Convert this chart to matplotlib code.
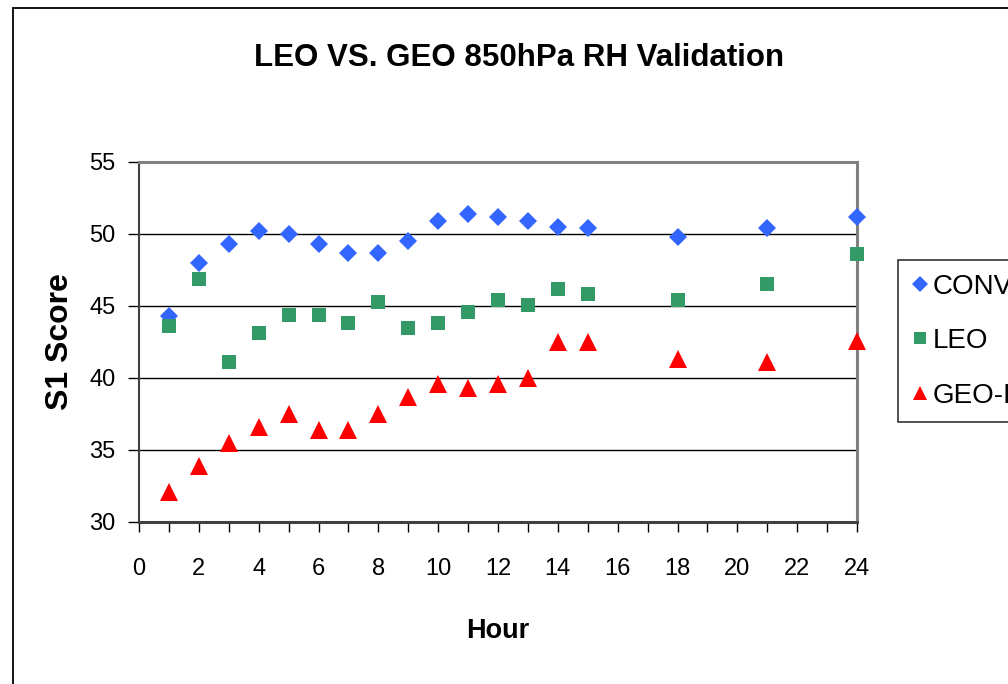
import matplotlib
matplotlib.use("Agg")
import matplotlib.pyplot as plt
from matplotlib.patches import Rectangle
from matplotlib.ticker import MultipleLocator

plt.rcParams['font.family'] = ['Liberation Sans', 'DejaVu Sans']

# S1 score by forecast hour
hours = [1, 2, 3, 4, 5, 6, 7, 8, 9, 10, 11, 12, 13, 14, 15, 18, 21, 24]
conv = [44.3, 48.0, 49.3, 50.2, 50.0, 49.3, 48.7, 48.7, 49.5, 50.9, 51.4, 51.2,
        50.9, 50.5, 50.4, 49.8, 50.4, 51.2]
leo = [43.6, 46.9, 41.1, 43.1, 44.4, 44.4, 43.8, 45.3, 43.5, 43.8, 44.6, 45.4,
       45.1, 46.2, 45.8, 45.4, 46.5, 48.6]
geo = [32.1, 33.9, 35.5, 36.6, 37.5, 36.4, 36.4, 37.5, 38.7, 39.6, 39.3, 39.6,
       40.0, 42.5, 42.5, 41.3, 41.1, 42.6]
series_names = ['CONV', 'LEO', 'GEO-IR']

fig = plt.figure(figsize=(10.08, 6.84), dpi=100)

# outer chart border (runs off the right and bottom edges)
fig.patches.append(Rectangle((13 / 1008, -0.05), 1.2, 1 - 8 / 684 + 0.05,
                             transform=fig.transFigure, fill=False,
                             edgecolor='black', linewidth=1.3, zorder=0))

ax = fig.add_axes([139 / 1008, 1 - 522 / 684, 718 / 1008, 360 / 684])

ax.plot(hours, conv, linestyle='none', marker='D', markersize=9.0,
        color='#3366ff', markeredgewidth=0, label=series_names[0], clip_on=False, zorder=3)
ax.plot(hours, leo, linestyle='none', marker='s', markersize=9.8,
        color='#339966', markeredgewidth=0, label=series_names[1], clip_on=False, zorder=3)
ax.plot(hours, geo, linestyle='none', marker='^', markersize=12.5,
        color='#ff0000', markeredgewidth=0, label=series_names[2], clip_on=False, zorder=3)

ax.set_xlim(0, 24)
ax.set_ylim(30, 55)
ax.xaxis.set_major_locator(MultipleLocator(2))
ax.xaxis.set_minor_locator(MultipleLocator(1))
ax.yaxis.set_major_locator(MultipleLocator(5))

ax.yaxis.grid(True, color='black', linewidth=1.0)
ax.set_axisbelow(True)

ax.tick_params(axis='x', which='both', direction='out', length=7, width=1,
               labelsize=17, pad=19)
ax.tick_params(axis='y', direction='out', length=8, width=1, labelsize=17, pad=9)

for side in ['top', 'right']:
    ax.spines[side].set_color('#808080')
    ax.spines[side].set_linewidth(2.2)
ax.spines['left'].set_color('#404040')
ax.spines['left'].set_linewidth(1.5)
ax.spines['bottom'].set_color('#404040')
ax.spines['bottom'].set_linewidth(2.2)

ax.set_xlabel('Hour', fontsize=19.5, fontweight='bold', labelpad=27)
ax.set_ylabel('S1 Score', fontsize=23, fontweight='bold', labelpad=10)

fig.text(519 / 1008, 1 - 58 / 684, 'LEO VS. GEO 850hPa RH Validation',
         ha='center', va='center', fontsize=22.5, fontweight='bold')

leg = ax.legend(loc='upper left', bbox_to_anchor=(898 / 1008, 1 - 260 / 684),
                bbox_transform=fig.transFigure, fontsize=20, frameon=True,
                fancybox=False, edgecolor='black', borderpad=0.5,
                labelspacing=1.02, handlelength=0.6, handletextpad=0.15,
                borderaxespad=0, markerscale=0.85)
leg.get_frame().set_linewidth(1.2)

plt.savefig('out.png', dpi=100)
